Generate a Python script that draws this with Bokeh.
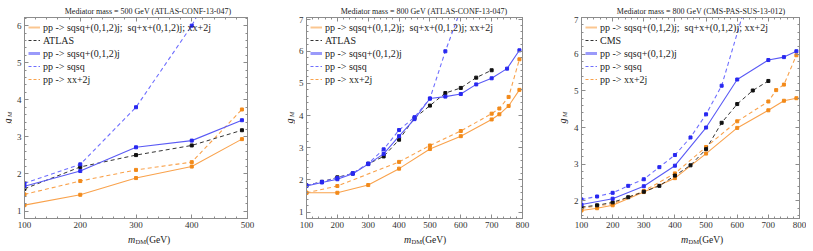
import math
from bokeh.plotting import figure
from bokeh.layouts import row, column
from bokeh.models import Range1d, LinearAxis, FixedTicker, Label, Legend, LegendItem
from bokeh.embed import file_html
from bokeh.resources import INLINE

# ---------------- data ----------------
# Panel 1: mediator 500 GeV (ATLAS-CONF-13-047)
p1_x_full = [100, 200, 300, 400, 490]
p1_full = [1.16, 1.44, 1.89, 2.20, 2.94]
p1_x_exp = [100, 200, 300, 400, 490]
p1_exp = [1.60, 2.19, 2.51, 2.77, 3.18]
p1_x_sqsqj = [100, 200, 300, 400, 490]
p1_sqsqj = [1.67, 2.08, 2.72, 2.90, 3.45]
p1_x_sqsq = [100, 200, 300, 400, 490]
p1_sqsq = [1.75, 2.26, 3.80, 6.00, 8.50]
p1_x_xx = [100, 200, 300, 400, 490]
p1_xx = [1.45, 1.81, 2.11, 2.32, 3.74]

# Panel 2: mediator 800 GeV (ATLAS-CONF-13-047)
p2_x_full = [100, 200, 300, 400, 500, 600, 700, 725, 755, 790]
p2_full = [1.60, 1.60, 1.84, 2.35, 2.96, 3.36, 3.88, 4.04, 4.30, 4.80]
p2_x_exp = [100, 150, 200, 250, 300, 350, 400, 450, 500, 550, 600, 650, 700]
p2_exp = [1.83, 1.94, 2.08, 2.20, 2.50, 2.73, 3.25, 3.92, 4.31, 4.70, 4.86, 5.18, 5.41]
p2_x_sqsqj = [100, 150, 200, 250, 300, 350, 400, 450, 500, 550, 600, 650, 700, 750, 790]
p2_sqsqj = [1.81, 1.92, 2.02, 2.19, 2.49, 2.81, 3.36, 3.89, 4.53, 4.59, 4.67, 4.97, 5.16, 5.46, 6.03]
p2_x_sqsq = [100, 150, 200, 250, 300, 350, 400, 450, 500, 550, 600]
p2_sqsq = [1.83, 1.94, 2.06, 2.21, 2.51, 2.95, 3.55, 3.95, 4.53, 6.00, 7.30]
p2_x_xx = [100, 200, 400, 500, 600, 700, 725, 755, 790]
p2_xx = [1.60, 1.81, 2.56, 3.07, 3.52, 4.06, 4.22, 4.58, 5.75]

# Panel 3: mediator 800 GeV (CMS-PAS-SUS-13-012)
p3_x_full = [100, 150, 200, 300, 400, 500, 600, 700, 750, 790]
p3_full = [1.74, 1.80, 1.88, 2.24, 2.62, 3.29, 3.99, 4.47, 4.73, 4.80]
p3_x_exp = [100, 150, 200, 250, 300, 350, 400, 450, 500, 550, 600, 650, 700]
p3_exp = [1.83, 1.88, 1.96, 2.10, 2.25, 2.41, 2.69, 2.97, 3.41, 4.13, 4.64, 5.01, 5.27]
p3_x_sqsqj = [100, 200, 300, 400, 500, 600, 700, 750, 790]
p3_sqsqj = [1.90, 2.06, 2.40, 2.96, 4.00, 5.31, 5.84, 5.92, 6.08]
p3_x_sqsq = [100, 150, 200, 250, 300, 350, 400, 450, 500, 550, 650]
p3_sqsq = [2.04, 2.12, 2.22, 2.41, 2.59, 2.92, 3.25, 3.73, 4.36, 5.14, 8.00]
p3_x_xx = [100, 200, 300, 400, 500, 600, 700, 725, 750, 790]
p3_xx = [1.80, 1.92, 2.27, 2.75, 3.47, 4.17, 4.71, 5.02, 5.17, 5.97]

titles = ["Mediator mass = 500 GeV (ATLAS-CONF-13-047)",
          "Mediator mass = 800 GeV (ATLAS-CONF-13-047)",
          "Mediator mass = 800 GeV (CMS-PAS-SUS-13-012)"]
exp_names = ["ATLAS", "ATLAS", "CMS"]
lbl_full = "pp -> sqsq+(0,1,2)j;  sq+x+(0,1,2)j; xx+2j"
lbl_sqsqj = "pp -> sqsq+(0,1,2)j"
lbl_sqsq = "pp -> sqsq"
lbl_xx = "pp -> xx+2j"

# ---------------- style ----------------
FONT = "Liberation Serif"
TXT = "#222222"
OR_LINE = "#F9A24C"
OR_MARK = "#F28A1A"
BL_LINE = "#5A5AF5"
BL_DASH = "#6E6EFF"
BL_MARK = "#2828F0"
BK_LINE = "#333333"
BK_MARK = "#111111"
FRAME = "#8C8C8C"
NAN = [float("nan")]

H_TITLE = 16
H_MAIN = 216
H_XLAB = 13
H_ALL = H_TITLE + H_MAIN + H_XLAB
TOP = 1
BOT = 14


def blank(width, height):
    f = figure(width=width, height=height, x_range=Range1d(0, 1), y_range=Range1d(0, 1),
               output_backend="svg", toolbar_location=None,
               x_axis_location=None, y_axis_location=None,
               min_border_left=0, min_border_right=0, min_border_top=0, min_border_bottom=0)
    f.outline_line_color = None
    f.xgrid.visible = False
    f.ygrid.visible = False
    return f


def style_axis(ax, ticks, minor, show_labels):
    ax.ticker = FixedTicker(ticks=ticks, minor_ticks=minor)
    ax.axis_line_color = FRAME
    ax.major_tick_line_color = FRAME
    ax.minor_tick_line_color = FRAME
    ax.major_tick_in = 4
    ax.major_tick_out = 0
    ax.minor_tick_in = 2
    ax.minor_tick_out = 0
    if show_labels:
        ax.major_label_text_font = FONT
        ax.major_label_text_font_size = "9px"
        ax.major_label_text_color = "#333333"
        ax.major_label_standoff = 3
    else:
        ax.major_label_text_font_size = "1px"
        ax.major_label_text_color = None
        ax.major_label_standoff = 0


def panel(idx, ylab_w, gx, width, bl, br, xr, yr, yticks, data):
    fw = width - bl - br
    p = figure(width=width, height=H_MAIN, x_range=Range1d(*xr), y_range=Range1d(*yr),
               output_backend="svg", toolbar_location=None,
               min_border_left=bl, min_border_right=br,
               min_border_top=TOP, min_border_bottom=BOT)
    p.outline_line_color = FRAME
    p.xgrid.visible = False
    p.ygrid.visible = False

    xticks = list(range(100, int(xr[1]) + 1, 100))
    xminor = list(range(100, int(xr[1]) + 1, 20))
    ylo = math.floor(yr[0] * 5) / 5
    yminor = [round(ylo + 0.2 * i, 2) for i in range(int((yr[1] - ylo) / 0.2) + 2)]

    style_axis(p.xaxis[0], xticks, xminor, True)
    style_axis(p.yaxis[0], yticks, yminor, True)
    top_ax = LinearAxis()
    right_ax = LinearAxis()
    style_axis(top_ax, xticks, xminor, False)
    style_axis(right_ax, yticks, yminor, False)
    p.add_layout(top_ax, "above")
    p.add_layout(right_ax, "right")

    (xf, yf), (xe, ye), (xsj, ysj), (xs, ys), (xx, yx) = data

    p.line(xf, yf, line_color=OR_LINE, line_width=1.1)
    p.scatter(xf, yf, marker="square", size=3, color=OR_MARK)
    p.line(xx, yx, line_color=OR_LINE, line_width=1.1, line_dash="4 3")
    p.scatter(xx, yx, marker="square", size=3, color=OR_MARK)
    p.line(xe, ye, line_color=BK_LINE, line_width=1, line_dash="4 3")
    p.scatter(xe, ye, marker="square", size=3, color=BK_MARK)
    p.line(xsj, ysj, line_color=BL_LINE, line_width=1.1)
    p.scatter(xsj, ysj, marker="square", size=3, color=BL_MARK)
    p.line(xs, ys, line_color=BL_DASH, line_width=1.1, line_dash="4 3")
    p.scatter(xs, ys, marker="square", size=3, color=BL_MARK)

    # legend swatches (no data of their own)
    r1 = p.line(NAN, NAN, line_color="#FBC690", line_width=2)
    r2 = p.line(NAN, NAN, line_color=BK_LINE, line_width=1, line_dash="3 2")
    r3 = p.line(NAN, NAN, line_color="#9A9AFA", line_width=3)
    r4 = p.line(NAN, NAN, line_color=BL_DASH, line_width=1, line_dash="3 2")
    r5 = p.line(NAN, NAN, line_color=OR_LINE, line_width=1, line_dash="3 2")
    leg = Legend(items=[LegendItem(label=lbl_full, renderers=[r1]),
                        LegendItem(label=exp_names[idx], renderers=[r2]),
                        LegendItem(label=lbl_sqsqj, renderers=[r3]),
                        LegendItem(label=lbl_sqsq, renderers=[r4]),
                        LegendItem(label=lbl_xx, renderers=[r5])],
                 location="top_left")
    leg.background_fill_alpha = 0
    leg.border_line_color = None
    leg.label_text_font = FONT
    leg.label_text_font_size = "10px"
    leg.label_text_color = TXT
    leg.glyph_width = 12
    leg.glyph_height = 12
    leg.label_height = 12
    leg.spacing = 1
    leg.padding = 2
    leg.margin = 4
    leg.label_standoff = 3
    p.add_layout(leg)

    cx = bl + fw / 2
    # title strip
    t = blank(width, H_TITLE)
    t.add_layout(Label(x=cx, y=5, x_units="screen", y_units="screen",
                       text=titles[idx], text_font=FONT, text_font_size="8px",
                       text_align="center", text_baseline="middle", text_color=TXT))
    # x-label strip: m_DM(GeV)
    xl = blank(width, H_XLAB)
    x0 = cx - 20
    xl.add_layout(Label(x=x0, y=6, x_units="screen", y_units="screen", text="m",
                        text_font=FONT, text_font_style="italic", text_font_size="10px",
                        text_baseline="alphabetic", text_color=TXT))
    xl.add_layout(Label(x=x0 + 7.5, y=4, x_units="screen", y_units="screen", text="DM",
                        text_font=FONT, text_font_size="6.5px",
                        text_baseline="alphabetic", text_color=TXT))
    xl.add_layout(Label(x=x0 + 18, y=6, x_units="screen", y_units="screen", text="(GeV)",
                        text_font=FONT, text_font_size="9.5px",
                        text_baseline="alphabetic", text_color=TXT))
    # y-label strip: g_M (rotated)
    yl = blank(ylab_w, H_ALL)
    ymid = H_XLAB + BOT + (H_MAIN - TOP - BOT) / 2
    yl.add_layout(Label(x=gx, y=ymid - 3, x_units="screen", y_units="screen", text="g",
                        angle=math.pi / 2, text_font=FONT, text_font_style="italic",
                        text_font_size="10px", text_align="center", text_baseline="middle",
                        text_color=TXT))
    yl.add_layout(Label(x=gx + 2, y=ymid + 3.5, x_units="screen", y_units="screen", text="M",
                        angle=math.pi / 2, text_font=FONT, text_font_style="italic",
                        text_font_size="6.5px", text_align="center", text_baseline="middle",
                        text_color=TXT))
    return row(yl, column(t, p, xl, spacing=0), spacing=0)


f1 = panel(0, 12, 7, 264, 12, 29, (100, 500), (0.8, 6.22), [1, 2, 3, 4, 5, 6],
           [(p1_x_full, p1_full), (p1_x_exp, p1_exp), (p1_x_sqsqj, p1_sqsqj),
            (p1_x_sqsq, p1_sqsq), (p1_x_xx, p1_xx)])
f2 = panel(1, 19, 13, 257, 8, 30, (100, 800), (0.8, 7.05), [1, 2, 3, 4, 5, 6, 7],
           [(p2_x_full, p2_full), (p2_x_exp, p2_exp), (p2_x_sqsqj, p2_sqsqj),
            (p2_x_sqsq, p2_sqsq), (p2_x_xx, p2_xx)])
f3 = panel(2, 18, 10, 236, 10, 7, (100, 800), (1.52, 7.0), [2, 3, 4, 5, 6, 7],
           [(p3_x_full, p3_full), (p3_x_exp, p3_exp), (p3_x_sqsqj, p3_sqsqj),
            (p3_x_sqsq, p3_sqsq), (p3_x_xx, p3_xx)])

layout = row(f1, f2, f3, spacing=0)
open("out.html", "w").write(file_html(layout, INLINE))
